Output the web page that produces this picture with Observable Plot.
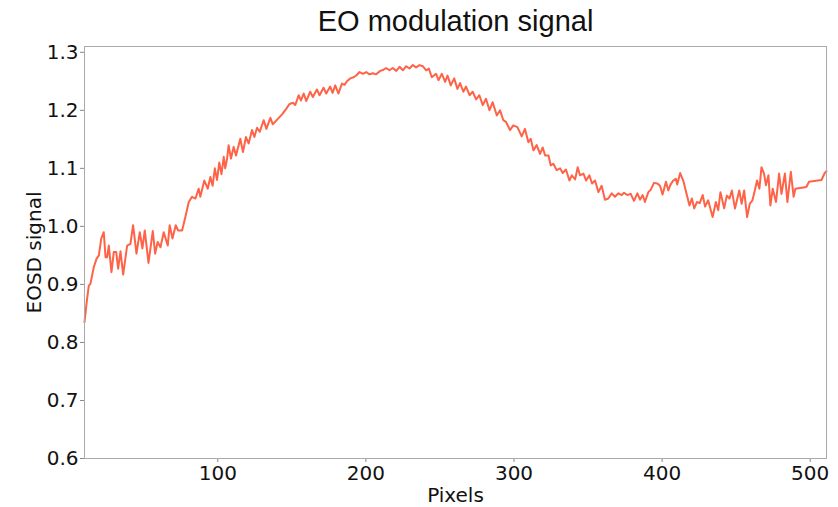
<!DOCTYPE html>
<html>
<head>
<meta charset="utf-8">
<script src="https://cdn.jsdelivr.net/npm/d3@7"></script>
<script src="https://cdn.jsdelivr.net/npm/@observablehq/plot@0.6"></script>
<style>
  html, body { margin: 0; padding: 0; background: #fff; }
</style>
</head>
<body>
<div id="chart"></div>
<script>
const title = "EO modulation signal";
const xLabel = "Pixels";
const yLabel = "EOSD signal";
const xTicks = [100, 200, 300, 400, 500];
const yTicks = [0.6, 0.7, 0.8, 0.9, 1.0, 1.1, 1.2, 1.3];

const pixels = [
  10, 11.5, 12.9, 14, 16.3, 18.1, 19.7, 21.3, 23, 24.2, 25.3, 26.4, 28.2, 29.8, 31.4, 32.7, 34.3, 36.1, 38.8, 41,
  42.8, 45.1, 47.3, 49.1, 50.7, 53.2, 56.1, 57.7, 59.4, 61.3, 63.5, 66.2, 67.5, 69.4, 71.6, 73.2, 75.9, 78.1, 80.4, 82.6,
  84.9, 87.1, 88.2, 90.9, 93.2, 95, 96.5, 98, 99.5, 101, 102.5, 104, 105, 106.3, 107.3, 108.9, 110.7, 112.3, 115.2, 117,
  119, 120.8, 123.1, 124.7, 126.5, 128.3, 131, 132.8, 135.5, 137.1, 140.1, 143.4, 146.3, 148.5, 150.8, 152.3, 154.6, 156.2, 158, 159.7,
  162.4, 164.2, 166.9, 168.7, 171.4, 173.2, 175.9, 177.5, 179.3, 181.5, 183.8, 185.5, 187.2, 189.4, 191.7, 193.5, 195.7, 198, 200.2, 202.4,
  204.7, 206.9, 209.7, 211.9, 213.6, 215.9, 218.1, 220.5, 222.7, 225, 227.2, 229.4, 231.7, 233.9, 236.2, 238.4, 240.7, 242.5, 244.5, 247.4,
  249, 251.3, 253.5, 255.1, 257.3, 259.6, 261.8, 263.6, 265.8, 267.6, 270, 272.1, 274.4, 276.6, 278.9, 281.1, 283.4, 285.6, 288.4, 290.6,
  292.8, 294.6, 297.3, 299.5, 302.3, 305.2, 307.4, 309.7, 311.3, 313.1, 315.3, 317.6, 319.4, 321, 323.3, 324.8, 326.6, 328.8, 331.1, 332.9,
  335.1, 337.4, 339, 341.3, 343, 344.6, 346.9, 348.7, 350.9, 352.7, 354.7, 357, 359.2, 361.4, 363.7, 366, 368.2, 370.5, 372.7, 374.3,
  376.5, 378.8, 381, 383.3, 385.1, 386.9, 388.4, 390.7, 392.3, 394.5, 396.8, 398.6, 400.3, 402.6, 404.2, 405.7, 407.5, 409.3, 410.2, 412.2,
  414.5, 416.7, 418.5, 420.1, 421.7, 423.5, 425.4, 427.4, 429, 431.1, 434.1, 436.3, 437.9, 439.4, 441.9, 443.7, 445.5, 447.1, 449.2, 452.1,
  453.7, 455.4, 457.4, 459.2, 461, 462.6, 464.1, 465.7, 467.1, 468.8, 470.1, 471.8, 473.1, 474.7, 476.9, 479, 480.6, 482.9, 484.6, 486.9,
  488.8, 490, 497.4, 499.2, 507.6, 509.8, 511
];

const signal = [
  0.835, 0.87, 0.898, 0.901, 0.93, 0.944, 0.95, 0.979, 0.99, 0.947, 0.947, 0.967, 0.921, 0.956, 0.956, 0.927, 0.957, 0.917, 0.967, 0.97,
  1.002, 0.953, 0.99, 0.962, 0.993, 0.937, 0.992, 0.953, 0.973, 0.964, 0.99, 0.967, 1.002, 0.979, 1.002, 0.993, 0.993, 1.016, 1.042, 1.051,
  1.048, 1.065, 1.051, 1.079, 1.065, 1.085, 1.07, 1.1, 1.08, 1.11, 1.09, 1.12, 1.1, 1.117, 1.14, 1.117, 1.137, 1.122, 1.151, 1.128,
  1.154, 1.143, 1.166, 1.154, 1.17, 1.163, 1.183, 1.168, 1.187, 1.176, 1.184, 1.193, 1.203, 1.211, 1.213, 1.209, 1.226, 1.217, 1.229, 1.216,
  1.232, 1.223, 1.236, 1.226, 1.239, 1.229, 1.241, 1.23, 1.243, 1.229, 1.246, 1.244, 1.25, 1.255, 1.257, 1.26, 1.266, 1.263, 1.266, 1.262,
  1.264, 1.262, 1.268, 1.27, 1.273, 1.269, 1.273, 1.268, 1.275, 1.269, 1.276, 1.272, 1.278, 1.274, 1.278, 1.276, 1.269, 1.272, 1.257, 1.263,
  1.252, 1.263, 1.249, 1.26, 1.243, 1.255, 1.237, 1.247, 1.232, 1.241, 1.226, 1.232, 1.219, 1.226, 1.209, 1.22, 1.2, 1.214, 1.191, 1.2,
  1.183, 1.18, 1.166, 1.174, 1.171, 1.155, 1.168, 1.145, 1.151, 1.131, 1.14, 1.125, 1.136, 1.122, 1.122, 1.105, 1.108, 1.097, 1.1, 1.092,
  1.098, 1.079, 1.088, 1.081, 1.102, 1.088, 1.091, 1.079, 1.088, 1.074, 1.079, 1.059, 1.07, 1.046, 1.048, 1.057, 1.051, 1.057, 1.054, 1.058,
  1.054, 1.056, 1.044, 1.057, 1.046, 1.054, 1.042, 1.059, 1.063, 1.075, 1.074, 1.07, 1.055, 1.077, 1.062, 1.072, 1.079, 1.082, 1.072, 1.092,
  1.077, 1.054, 1.036, 1.048, 1.031, 1.042, 1.04, 1.054, 1.034, 1.045, 1.016, 1.042, 1.028, 1.059, 1.031, 1.053, 1.048, 1.062, 1.031, 1.062,
  1.039, 1.062, 1.016, 1.039, 1.045, 1.062, 1.079, 1.065, 1.102, 1.091, 1.071, 1.088, 1.036, 1.065, 1.042, 1.091, 1.056, 1.091, 1.042, 1.094,
  1.051, 1.065, 1.068, 1.077, 1.08, 1.092, 1.095
];

const data = pixels.map((p, i) => ({pixel: p, value: signal[i]}));

const chart = Plot.plot({
  width: 838,
  height: 507,
  marginTop: 46,
  marginBottom: 49,
  marginLeft: 84,
  marginRight: 12,
  style: {fontFamily: "DejaVu Sans", fontSize: "20px", color: "#111", background: "#fff"},
  x: {domain: [10, 511]},
  y: {domain: [0.6, 1.31]},
  marks: [
    Plot.axisX({ticks: xTicks, tickSize: 4, tickPadding: 3, label: null, stroke: "#888", fontSize: 20}),
    Plot.axisY({ticks: yTicks, tickSize: 4, tickPadding: 2, label: null, tickFormat: d3.format(".1f"), stroke: "#888", fontSize: 20}),
    Plot.line(data, {x: "pixel", y: "value", stroke: "#ff6347", strokeWidth: 2}),
    Plot.frame({stroke: "#aaa"}),
    Plot.text([xLabel], {frameAnchor: "bottom", dy: 37, lineAnchor: "middle", textAnchor: "middle", fontSize: 20, fill: "#111"}),
    Plot.text([yLabel], {frameAnchor: "left", dx: -50, rotate: -90, lineAnchor: "middle", textAnchor: "middle", fontSize: 20, fill: "#111"}),
    Plot.text([title], {frameAnchor: "top", dy: -25, lineAnchor: "middle", textAnchor: "middle", fontSize: 29, fontFamily: "Liberation Sans", fill: "#111"})
  ]
});
document.getElementById("chart").appendChild(chart);
</script>
</body>
</html>
